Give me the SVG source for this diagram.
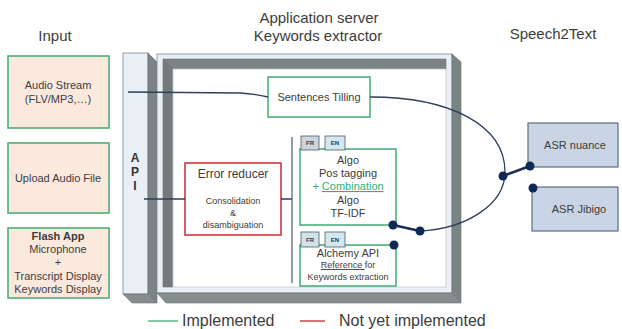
<svg xmlns="http://www.w3.org/2000/svg" width="622" height="329" viewBox="0 0 622 329">
<style>
text{font-family:"Liberation Sans",Arial,sans-serif;fill:#3c3c3c}
.title{font-size:15px;text-anchor:middle}
.in{fill:#fbe9de;stroke:#4cb077;stroke-width:1.6}
.t11{font-size:11px;text-anchor:middle}
.t9{font-size:9px;text-anchor:middle}
.dark{fill:#7b8484;stroke:#6a7272;stroke-width:0.6}
.light{fill:#e9eff4;stroke:#7d868b;stroke-width:0.8}
.gbox{fill:#fff;stroke:#4caf7d;stroke-width:1.6}
.tab{stroke:#4a5a6a;stroke-width:0.8}
.tabt{font-size:6px;font-weight:bold;text-anchor:middle;fill:#2c4050}
.asr{fill:#c9d5e5;stroke:#5d6d82;stroke-width:1.2}
.ln{fill:none;stroke:#2d3f5c;stroke-width:1.3}
.seg{fill:none;stroke:#1c2f52;stroke-width:2.6}
.dot{fill:#0f2a52}
.api{font-size:12px;font-weight:bold;text-anchor:middle;fill:#333}
</style>

<!-- titles -->
<text class="title" x="55" y="41">Input</text>
<text class="title" x="319" y="23">Application server</text>
<text class="title" x="318" y="41">Keywords extractor</text>
<text class="title" x="553" y="39">Speech2Text</text>

<!-- input nodes -->
<g id="audio-stream">
<rect class="in" x="8" y="56" width="101" height="72"/>
<text class="t11" x="58" y="89">Audio Stream</text>
<text class="t11" x="58" y="103">(FLV/MP3,…)</text>
</g>
<g id="upload-audio">
<rect class="in" x="8" y="143" width="101" height="70"/>
<text class="t11" x="58" y="182">Upload Audio File</text>
</g>
<g id="flash-app">
<rect class="in" x="8" y="228" width="101" height="70"/>
<text class="t11" x="58" y="240" font-weight="bold">Flash App</text>
<text class="t11" x="58" y="253">Microphone</text>
<text class="t11" x="58" y="266">+</text>
<text class="t11" x="58" y="280">Transcript Display</text>
<text class="t11" x="58" y="293">Keywords Display</text>
</g>

<!-- API bar -->
<g id="api">
<rect class="light" x="123" y="53" width="25" height="241"/>
<polygon class="dark" points="148,53 157,62 157,303 148,294"/>
<polygon class="dark" points="123,294 148,294 157,303 132,303" style="fill:#858d8d"/>
<text class="api" x="135" y="162">A</text>
<text class="api" x="135" y="176">P</text>
<text class="api" x="135" y="190">I</text>
</g>

<!-- application server frame -->
<g id="app-server">
<rect class="light" x="157" y="54" width="295" height="239"/>
<polygon class="dark" points="452,54 461,62 461,303 452,293"/>
<polygon class="dark" points="157,293 452,293 461,303 166,303" style="fill:#858d8d"/>
<polygon class="dark" points="163,59 446,59 446,69 173,69"/>
<polygon class="dark" points="163,59 173,69 173,287 163,287" style="fill:#737b7b"/>
<rect x="173" y="69" width="273" height="218" fill="#fff" stroke="#c4cbd0" stroke-width="0.8"/>
</g>

<g id="sentences-tilling">
<rect class="gbox" x="268" y="77" width="102" height="40"/>
<text class="t11" x="319" y="101">Sentences Tilling</text>
</g>

<g id="error-reducer">
<rect x="185" y="163" width="96" height="72" fill="#fff" stroke="#c93a3a" stroke-width="1.6"/>
<text x="233" y="178" font-size="12" text-anchor="middle">Error reducer</text>
<text class="t9" x="233" y="204">Consolidation</text>
<text class="t9" x="233" y="216">&amp;</text>
<text class="t9" x="233" y="228">disambiguation</text>
</g>

<g id="algo">
<rect class="gbox" x="300" y="149" width="96" height="76"/>
<rect class="tab" x="301" y="136" width="18" height="14" fill="#cdd4dc"/>
<text class="tabt" x="310" y="145">FR</text>
<rect class="tab" x="325" y="136" width="20" height="14" fill="#d5e8f0"/>
<text class="tabt" x="335" y="145">EN</text>
<text class="t11" x="348" y="164">Algo</text>
<text class="t11" x="348" y="177">Pos tagging</text>
<text class="t11" x="348" y="190" style="fill:#3daa6e">+ <tspan text-decoration="underline">Combination</tspan></text>
<text class="t11" x="348" y="204">Algo</text>
<text class="t11" x="348" y="217">TF-IDF</text>
</g>

<g id="alchemy">
<rect class="gbox" x="300" y="245" width="96" height="41"/>
<rect class="tab" x="301" y="232" width="18" height="15" fill="#d3e3ea"/>
<text class="tabt" x="310" y="242">FR</text>
<rect class="tab" x="325" y="232" width="20" height="15" fill="#d5e8f0"/>
<text class="tabt" x="335" y="242">EN</text>
<text class="t11" x="348" y="257">Alchemy API</text>
<text class="t9" x="348" y="268"><tspan text-decoration="underline">Reference </tspan>for</text>
<text class="t9" x="348" y="280">Keywords extraction</text>
</g>

<g id="asr-nuance">
<rect class="asr" x="528" y="123" width="90" height="44"/>
<text class="t11" x="575" y="149">ASR nuance</text>
</g>
<g id="asr-jibigo">
<rect class="asr" x="532" y="187" width="86" height="44"/>
<text class="t11" x="579" y="213">ASR Jibigo</text>
</g>

<!-- connectors -->
<g id="connectors">
<path class="ln" d="M128,92 L240,93 Q256,94 268,97"/>
<path class="ln" d="M144,199 L185,199 M281,199 L292,199"/>
<path class="ln" d="M292,137 L292,283" style="stroke:#56657a"/>
<path class="ln" d="M370,97 C450,97 505,125 505,172 C505,205 465,229 420,231"/>
<path class="seg" d="M393,225 L420,231"/>
<path class="seg" d="M503,176 L530,166"/>
<circle class="dot" cx="393" cy="225" r="4.5"/>
<circle class="dot" cx="420" cy="231" r="4.5"/>
<circle class="dot" cx="394" cy="245" r="4.5"/>
<circle class="dot" cx="503" cy="176" r="4.5"/>
<circle class="dot" cx="530" cy="166" r="4.5"/>
<circle class="dot" cx="533" cy="188" r="4.5"/>
</g>

<!-- legend -->
<g id="legend">
<line x1="148" y1="321" x2="178" y2="321" stroke="#4cb07f" stroke-width="1.4"/>
<text x="182" y="326" font-size="16">Implemented</text>
<line x1="300" y1="321" x2="325" y2="321" stroke="#c93a3a" stroke-width="1.4"/>
<text x="339" y="326" font-size="16">Not yet implemented</text>
</g>
</svg>
